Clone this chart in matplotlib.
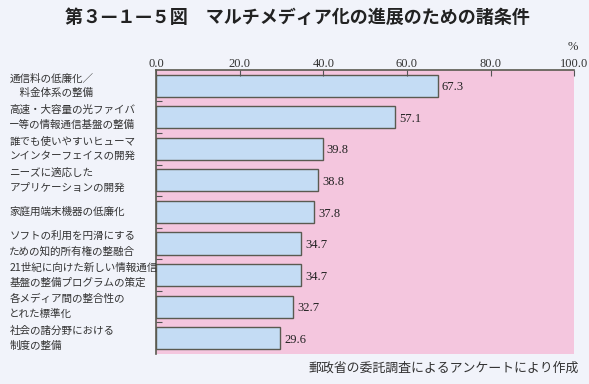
import matplotlib.pyplot as plt

plt.rcParams['font.family'] = ['Noto Sans CJK JP', 'DejaVu Sans']

labels = [
    "通信料の低廉化／\n　料金体系の整備",
    "高速・大容量の光ファイバ\nー等の情報通信基盤の整備",
    "誰でも使いやすいヒューマ\nンインターフェイスの開発",
    "ニーズに適応した\nアプリケーションの開発",
    "家庭用端末機器の低廉化",
    "ソフトの利用を円滑にする\nための知的所有権の整融合",
    "21世紀に向けた新しい情報通信\n基盤の整備プログラムの策定",
    "各メディア間の整合性の\nとれた標準化",
    "社会の諸分野における\n制度の整備",
]
values = [67.3, 57.1, 39.8, 38.8, 37.8, 34.7, 34.7, 32.7, 29.6]
xticks = [0, 20, 40, 60, 80, 100]

serif = ['Liberation Serif', 'DejaVu Serif']

fig = plt.figure(figsize=(5.89, 3.84), dpi=100)
fig.patch.set_facecolor('#f1f3fa')
ax = fig.add_axes([0.265, 0.078, 0.710, 0.740])
ax.set_facecolor('#f4c6de')

y = list(range(len(values)))
ax.barh(y, values, height=0.7, color='#c4dcf4', edgecolor='#5a5a50', linewidth=1.0)
for yi, v in zip(y, values):
    ax.text(v + 1.0, yi + 0.05, f"{v:.1f}", va='center', ha='left', fontsize=9,
            family=serif, color='#222222')

ax.set_xlim(0, 100)
ax.set_ylim(len(values) - 0.5, -0.5)
ax.xaxis.tick_top()
ax.set_xticks(xticks)
ax.set_xticklabels([f"{t:.1f}" for t in xticks], family=serif, fontsize=9, color='#333333')
ax.tick_params(axis='x', direction='in', length=4, pad=0, color='#555555')
ax.set_yticks([i + 0.5 for i in y[:-1]])
ax.set_yticklabels([])
ax.tick_params(axis='y', direction='in', length=4, color='#555555')
for s in ['right', 'bottom']:
    ax.spines[s].set_visible(False)
for s in ['top', 'left']:
    ax.spines[s].set_color('#5a5a50')
    ax.spines[s].set_linewidth(1.2)

for yi, lab in zip(y, labels):
    ax.text(-0.351, yi, lab, transform=ax.get_yaxis_transform(), ha='left', va='center',
            fontsize=7.6, color='#333333', linespacing=1.55)

fig.text(0.505, 0.955, "第３—１—５図　マルチメディア化の進展のための諸条件", ha='center', va='center',
         fontsize=13, fontweight='bold', color='#222222')
fig.text(0.982, 0.877, "%", ha='right', va='center', fontsize=9, family=serif, color='#333333')
fig.text(0.983, 0.040, "郵政省の委託調査によるアンケートにより作成", ha='right', va='center',
         fontsize=9.3, color='#333333')

fig.savefig('out.png', dpi=100, facecolor=fig.get_facecolor())
